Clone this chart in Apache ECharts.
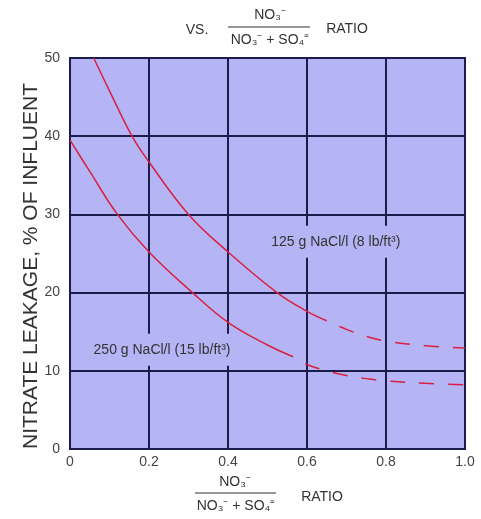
<!DOCTYPE html>
<html>
<head>
<meta charset="utf-8">
<script src="https://cdn.jsdelivr.net/npm/echarts@6/dist/echarts.min.js"></script>
<style>
html,body{margin:0;padding:0;background:#fff;}
#chart{width:481px;height:519px;}
</style>
</head>
<body>
<div id="chart"></div>
<script>
// Data
var xTicks = [0, 0.2, 0.4, 0.6, 0.8, 1.0];
var yTicks = [0, 10, 20, 30, 40, 50];

var salt125Solid = [[0.06, 50], [0.1, 45.8], [0.157, 40], [0.2, 36.7], [0.3, 30], [0.4, 25.2], [0.524, 20], [0.6, 17.6], [0.65, 16.4]];
var salt125Dashed = [[0.65, 16.4], [0.7, 15.3], [0.75, 14.4], [0.8, 13.8], [0.9, 13.2], [1.0, 12.9]];
var salt250Solid = [[0, 39.5], [0.05, 35.5], [0.12, 30], [0.2, 25.2], [0.31, 20], [0.4, 16.2], [0.5, 13.3], [0.565, 11.8]];
var salt250Dashed = [[0.565, 11.8], [0.6, 10.8], [0.65, 10.0], [0.7, 9.4], [0.75, 9.0], [0.8, 8.7], [0.9, 8.4], [1.0, 8.2]];

var label125 = '125 g NaCl/l (8 lb/ft\u00B3)';
var label250 = '250 g NaCl/l (15 lb/ft\u00B3)';
var label125Pos = [0.673, 26.5];
var label250Pos = [0.233, 12.7];

var numerText = 'NO\u2083\u207B';
var denomText = 'NO\u2083\u207B + SO\u2084\u207C';
var yTitle = 'NITRATE LEAKAGE, % OF INFLUENT';

var lineColor = '#d9203f';
var gridColor = '#1c1c4c';
var plotBg = '#b5b5f5';
var textColor = '#333';
var font = 'Liberation Sans, Arial, sans-serif';

var chart = echarts.init(document.getElementById('chart'));

function labelPoint(pos, text) {
  return {
    symbol: 'rect', symbolSize: 0,
    label: {
      show: true, position: 'inside', formatter: text,
      color: textColor, fontFamily: font, fontSize: 14,
      backgroundColor: plotBg, padding: [9, 3, 9, 3]
    },
    data: [{ coord: pos }]
  };
}

function txt(x, y, text, size, rot) {
  return {
    type: 'text', x: x, y: y, rotation: rot || 0,
    style: { text: text, fill: textColor, font: (size || 14) + 'px ' + font, align: 'center', verticalAlign: 'middle' }
  };
}

function curve(data, dashed, mp) {
  var ls = { color: lineColor, width: 1.5, type: 'solid' };
  if (dashed) { ls.type = [15, 14]; ls.dashOffset = 15; }
  var s = { type: 'line', data: data, smooth: 0.4, symbol: 'none', z: 3, lineStyle: ls };
  if (mp) s.markPoint = mp;
  return s;
}

var option = {
  animation: false,
  backgroundColor: '#fff',
  grid: {
    left: 70, right: 16, top: 58, bottom: 70,
    show: true, backgroundColor: plotBg, borderColor: gridColor, borderWidth: 2
  },
  xAxis: {
    type: 'value', min: 0, max: 1, interval: 0.2,
    axisLine: { show: true, lineStyle: { color: gridColor, width: 2 } },
    axisTick: { show: false },
    splitLine: { show: true, lineStyle: { color: gridColor, width: 2 } },
    axisLabel: {
      margin: 6, color: '#444', fontFamily: font, fontSize: 14,
      formatter: function (v) { return v === 0 ? '0' : v.toFixed(1); }
    }
  },
  yAxis: {
    type: 'value', min: 0, max: 50, interval: 10,
    axisLine: { show: true, lineStyle: { color: gridColor, width: 2 } },
    axisTick: { show: false },
    splitLine: { show: true, lineStyle: { color: gridColor, width: 2 } },
    axisLabel: { margin: 10, color: '#444', fontFamily: font, fontSize: 14 }
  },
  series: [
    curve(salt125Solid, false, labelPoint(label125Pos, label125)),
    curve(salt125Dashed, true),
    curve(salt250Solid, false, labelPoint(label250Pos, label250)),
    curve(salt250Dashed, true)
  ],
  graphic: [
    txt(31, 266, yTitle, 21, Math.PI / 2),

    txt(197, 30, 'VS.'),
    txt(270, 15, numerText),
    { type: 'line', shape: { x1: 228, y1: 27, x2: 310, y2: 27 }, style: { stroke: textColor, lineWidth: 1.2 } },
    txt(270, 40, denomText),
    txt(347, 29, 'RATIO'),

    txt(235, 482, numerText),
    { type: 'line', shape: { x1: 195, y1: 493, x2: 276, y2: 493 }, style: { stroke: textColor, lineWidth: 1.2 } },
    txt(236, 506, denomText),
    txt(322, 497, 'RATIO')
  ]
};
chart.setOption(option);
</script>
</body>
</html>
